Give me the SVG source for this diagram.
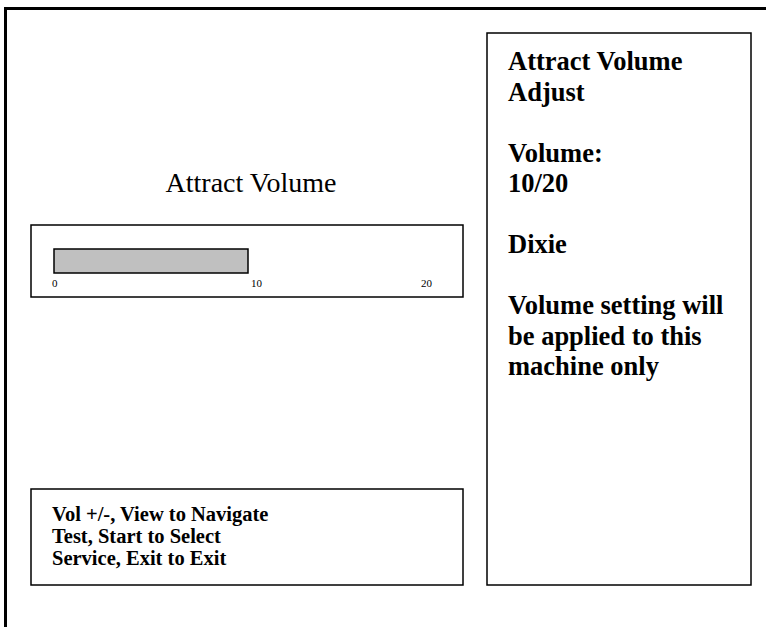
<svg xmlns="http://www.w3.org/2000/svg" width="766" height="627" viewBox="0 0 766 627">
<style>
.box{fill:#fff;stroke:#000;stroke-width:1.5}
.b{font-family:"Liberation Serif","Times New Roman",serif;font-weight:bold;fill:#000}
.r{font-family:"Liberation Serif","Times New Roman",serif;fill:#000}
</style>
<rect width="766" height="627" fill="#fff"/>
<g id="frame">
<line x1="4" y1="8.5" x2="766" y2="8.5" stroke="#000" stroke-width="3"/>
<line x1="5.5" y1="7" x2="5.5" y2="627" stroke="#000" stroke-width="3"/>
</g>
<g id="title">
<text class="r" x="251" y="192" font-size="28" text-anchor="middle">Attract Volume</text>
</g>
<g id="volume-bar">
<rect class="box" x="31" y="225" width="432" height="72"/>
<rect x="54" y="249" width="194" height="24" fill="#c0c0c0" stroke="#000" stroke-width="1.5"/>
<text class="r" x="52" y="287" font-size="11">0</text>
<text class="r" x="251" y="287" font-size="11">10</text>
<text class="r" x="421" y="287" font-size="11">20</text>
</g>
<g id="controls">
<rect class="box" x="31" y="489" width="432" height="96"/>
<text class="b" font-size="20.5">
<tspan x="52" y="520.5">Vol +/-, View to Navigate</tspan>
<tspan x="52" y="542.5">Test, Start to Select</tspan>
<tspan x="52" y="564.5">Service, Exit to Exit</tspan>
</text>
</g>
<g id="info-panel">
<rect class="box" x="487" y="33" width="264" height="552"/>
<text class="b" font-size="26.5">
<tspan x="508" y="70">Attract Volume</tspan>
<tspan x="508" y="100.5">Adjust</tspan>
<tspan x="508" y="161.5">Volume:</tspan>
<tspan x="508" y="192">10/20</tspan>
<tspan x="508" y="253">Dixie</tspan>
<tspan x="508" y="314">Volume setting will</tspan>
<tspan x="508" y="344.5">be applied to this</tspan>
<tspan x="508" y="375">machine only</tspan>
</text>
</g>
<g id="connectors"/>
</svg>
